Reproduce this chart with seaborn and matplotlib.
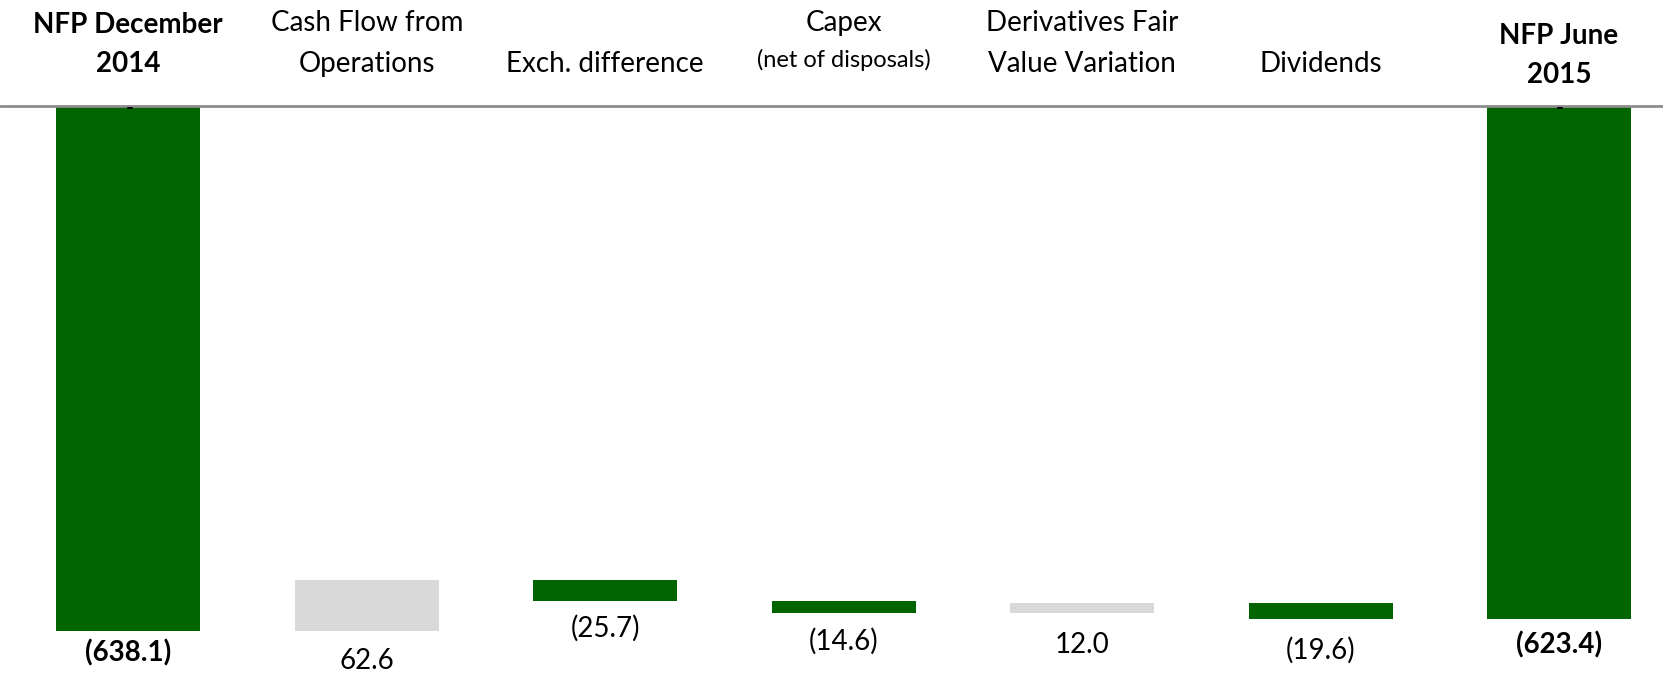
import numpy as np
import pandas as pd
import matplotlib
matplotlib.use("Agg")
import matplotlib.pyplot as plt
from matplotlib.transforms import blended_transform_factory
import seaborn as sns

# Net financial position bridge, Dec 2014 -> Jun 2015 (EUR m)
categories = ["NFP December 2014", "Cash Flow from Operations", "Exch. difference",
              "Capex", "Derivatives Fair Value Variation", "Dividends", "NFP June 2015"]
start_total = -638.1
movements = [62.6, -25.7, -14.6, 12.0, -19.6]
end_total = -623.4
value_labels = ["(638.1)", "62.6", "(25.7)", "(14.6)", "12.0", "(19.6)", "(623.4)"]

GREEN = "#006400"
GREY = "#d9d9d9"

# waterfall geometry: floating bars start where the running total left off
running = np.concatenate([[start_total], start_total + np.cumsum(movements)])
bottoms = np.concatenate([[0.0], running[:-1], [0.0]])
heights = np.concatenate([[start_total], movements, [end_total]])
colors = [GREEN] + [GREY if m > 0 else GREEN for m in movements] + [GREEN]

df = pd.DataFrame({"category": categories, "height": heights})

sns.set_theme(style="white")
plt.rcParams["font.family"] = ["Lato", "DejaVu Sans"]

W, H = 1663, 676
fig = plt.figure(figsize=(W / 100, H / 100), dpi=100)
zero_px = 106
ax = fig.add_axes([0, 0, 1, (H - zero_px) / H])

sns.barplot(data=df, x="category", y="height", bottom=bottoms, width=0.604,
            color=GREEN, ax=ax, saturation=1)
for patch, c in zip(ax.patches, colors):
    patch.set_facecolor(c)
    patch.set_edgecolor("none")

ax.set_xlim(-0.538, 6.436)
ax.set_ylim(-692.7, 0)
for s in ax.spines.values():
    s.set_visible(False)
ax.set_xticks([])
ax.set_yticks([])
ax.set_xlabel("")
ax.set_ylabel("")
ax.axhline(0, color="#8c8c8c", lw=2.0, clip_on=False, zorder=5)

# value labels under the low end of each bar
lows = np.minimum(bottoms, bottoms + heights)
offsets = [22, 30, 28, 29, 32, 31, 26]
for i, (lbl, low) in enumerate(zip(value_labels, lows)):
    bold = i in (0, len(categories) - 1)
    ax.annotate(lbl, (i, low), xytext=(0, -offsets[i]), textcoords="offset pixels",
                ha="center", va="center", fontsize=20,
                fontweight="bold" if bold else "normal", color="black",
                annotation_clip=False)
    if bold:
        # zero placeholder label of the hidden series on the totals
        ax.annotate("-", (i, 0), xytext=(1, -8), textcoords="offset pixels",
                    ha="center", va="baseline", fontsize=15, fontweight="bold",
                    color="black", zorder=6)

# category headers above the zero line
tr = blended_transform_factory(ax.transData, fig.transFigure)
FS = 20
header_lines = [
    [("NFP December", 25, FS, "bold"), ("2014", 64, FS, "bold")],
    [("Cash Flow from", 23, FS, "normal"), ("Operations", 64, FS, "normal")],
    [("Exch. difference", 64, FS, "normal")],
    [("Capex", 23, FS, "normal"), ("(net of disposals)", 60, 17, "normal")],
    [("Derivatives Fair", 23, FS, "normal"), ("Value Variation", 64, FS, "normal")],
    [("Dividends", 64, FS, "normal")],
    [("NFP June", 36, FS, "bold"), ("2015", 75, FS, "bold")],
]
for i, lines in enumerate(header_lines):
    for text, ypx, fs, fw in lines:
        fig.text(i, 1 - ypx / H, text, transform=tr, ha="center", va="center",
                 fontsize=fs, fontweight=fw, color="black")

fig.savefig("out.png", dpi=100, facecolor="white")
